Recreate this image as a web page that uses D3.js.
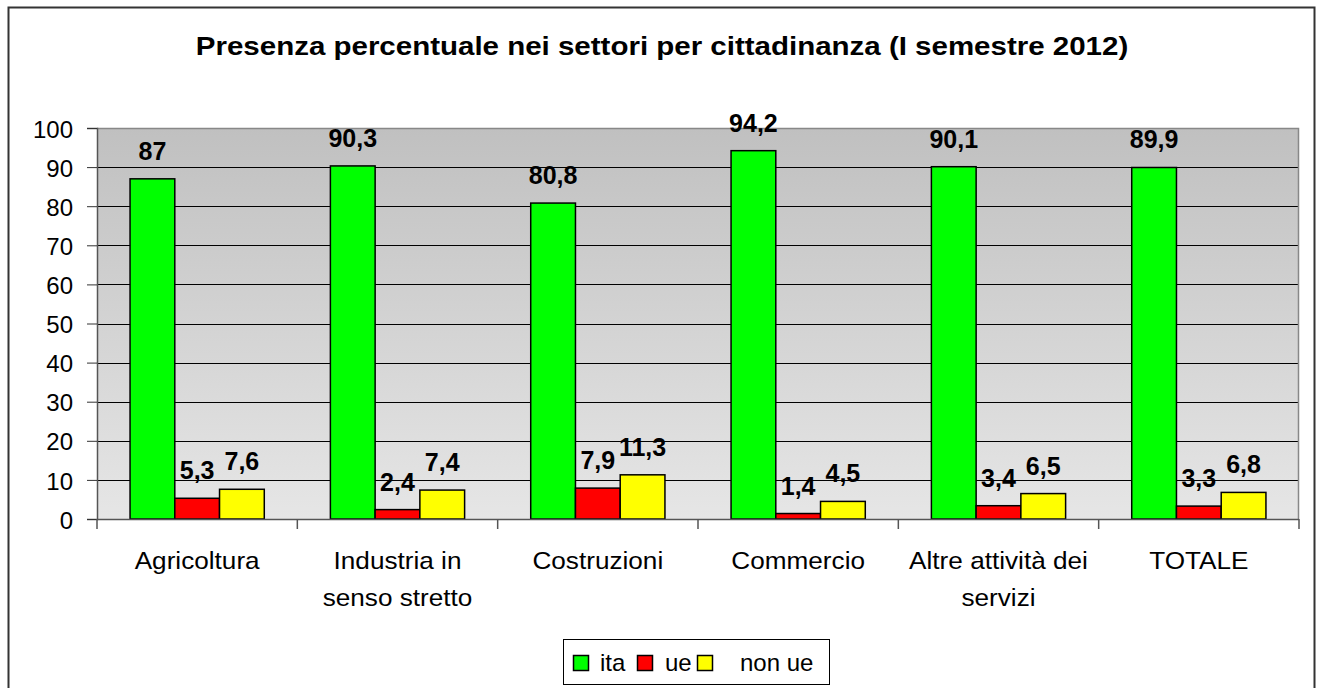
<!DOCTYPE html>
<html>
<head>
<meta charset="utf-8">
<script src="https://cdn.jsdelivr.net/npm/d3@7"></script>
<style>
  body { margin: 0; background: #fff; }
  svg { display: block; font-family: "Liberation Sans", Arial, sans-serif; }
</style>
</head>
<body>
<svg id="chart" width="1321" height="688"></svg>
<script>
const title = "Presenza percentuale nei settori per cittadinanza (I semestre 2012)";
const categories = [["Agricoltura"], ["Industria in", "senso stretto"], ["Costruzioni"], ["Commercio"], ["Altre attività dei", "servizi"], ["TOTALE"]];
const seriesNames = ["ita", "ue", "non ue"];
const seriesColors = ["#00ff00", "#ff0000", "#ffff00"];
const ita = [87, 90.3, 80.8, 94.2, 90.1, 89.9];
const ue = [5.3, 2.4, 7.9, 1.4, 3.4, 3.3];
const nonUe = [7.6, 7.4, 11.3, 4.5, 6.5, 6.8];
const yTicks = [0, 10, 20, 30, 40, 50, 60, 70, 80, 90, 100];

const series = [ita, ue, nonUe];
const svg = d3.select("#chart");
const L = 97, R = 1299, T = 128, B = 519;

// outer border
svg.append("rect").attr("x", 8.5).attr("y", 7.5).attr("width", 1306).attr("height", 690)
  .attr("fill", "#fff").attr("stroke", "#333").attr("stroke-width", 2);

// title (horizontally stretched like the original rendering)
svg.append("text").attr("transform", "translate(662,55) scale(1.18,1)").attr("text-anchor", "middle")
  .attr("font-size", 25).attr("font-weight", "bold").text(title);

const x0 = d3.scaleBand().domain(d3.range(categories.length)).range([L, R]).paddingInner(0.33).paddingOuter(0.165);
const x1 = d3.scaleBand().domain(d3.range(3)).range([0, x0.bandwidth()]);
const y = d3.scaleLinear().domain([0, 100]).range([B, T]);

// gradient background
const defs = svg.append("defs");
const g = defs.append("linearGradient").attr("id", "bg").attr("x1", 0).attr("y1", 0).attr("x2", 0).attr("y2", 1);
g.append("stop").attr("offset", "0%").attr("stop-color", "#c0c0c0");
g.append("stop").attr("offset", "100%").attr("stop-color", "#e6e6e6");
svg.append("rect").attr("x", L).attr("y", T).attr("width", R - L).attr("height", B - T).attr("fill", "url(#bg)");

// gridlines
svg.append("g").selectAll("line").data(yTicks.filter(d => d > 0 && d < 100)).join("line")
  .attr("x1", L).attr("x2", R).attr("y1", d => Math.round(y(d)) + 0.5).attr("y2", d => Math.round(y(d)) + 0.5)
  .attr("stroke", "#000").attr("stroke-width", 1);
// plot border top/right
svg.append("path").attr("d", `M${L},${T + 0.5}H${R - 0.5}V${B}`).attr("fill", "none").attr("stroke", "#888").attr("stroke-width", 1.5);

// y axis
const yAxis = d3.axisLeft(y).tickValues(yTicks).tickSize(10).tickPadding(14);
const ya = svg.append("g").attr("transform", `translate(${L},0)`).call(yAxis);
ya.select(".domain").attr("stroke", "#555").attr("stroke-width", 1.5);
ya.selectAll(".tick line").attr("stroke", "#333");
ya.selectAll(".tick text").attr("font-size", 24).attr("fill", "#000").attr("font-family", "Liberation Sans, Arial, sans-serif").attr("dy", "0.38em");

// bars
const groups = svg.append("g").selectAll("g").data(categories).join("g")
  .attr("transform", (d, i) => `translate(${x0(i)},0)`);
groups.each(function(d, i) {
  const gg = d3.select(this);
  series.forEach((s, k) => {
    gg.append("rect").attr("x", x1(k)).attr("y", y(s[i])).attr("width", x1.bandwidth()).attr("height", B - y(s[i]))
      .attr("fill", seriesColors[k]).attr("stroke", "#000").attr("stroke-width", 1.5);
    gg.append("text").attr("x", x1(k) + x1.bandwidth() / 2).attr("y", y(s[i]) - 19)
      .attr("text-anchor", "middle").attr("font-size", 25).attr("font-weight", "bold")
      .text(String(s[i]).replace(".", ","));
  });
});

// x axis
svg.append("line").attr("x1", L).attr("x2", R).attr("y1", B + 0.5).attr("y2", B + 0.5).attr("stroke", "#555").attr("stroke-width", 1.5);
const bounds = d3.range(categories.length + 1).map(i => i === categories.length ? R : x0(i) - x0.step() * x0.paddingInner() / 2);
svg.append("g").selectAll("line").data(bounds).join("line")
  .attr("x1", d => d).attr("x2", d => d).attr("y1", B).attr("y2", B + 10).attr("stroke", "#555").attr("stroke-width", 1.5);

svg.append("g").selectAll("text").data(categories).join("text")
  .attr("transform", (d, i) => `translate(${x0(i) + x0.bandwidth() / 2},569) scale(1.09,1)`)
  .attr("text-anchor", "middle").attr("font-size", 24)
  .each(function(d) {
    d3.select(this).selectAll("tspan").data(d).join("tspan")
      .attr("x", 0).attr("dy", (t, j) => j === 0 ? 0 : 37).text(t => t);
  });

// legend
const lg = svg.append("g");
lg.append("rect").attr("x", 563.5).attr("y", 639.5).attr("width", 266).attr("height", 45).attr("fill", "#fff").attr("stroke", "#000").attr("stroke-width", 1);
const legX = [573, 637, 697];
const legTextX = [600, 665, 740];
seriesNames.forEach((n, k) => {
  lg.append("rect").attr("x", legX[k] + 0.5).attr("y", 655.5).attr("width", 15).attr("height", 15)
    .attr("fill", seriesColors[k]).attr("stroke", "#000").attr("stroke-width", 1.5);
  lg.append("text").attr("x", legTextX[k]).attr("y", 671).attr("font-size", 24).text(n);
});
</script>
</body>
</html>
